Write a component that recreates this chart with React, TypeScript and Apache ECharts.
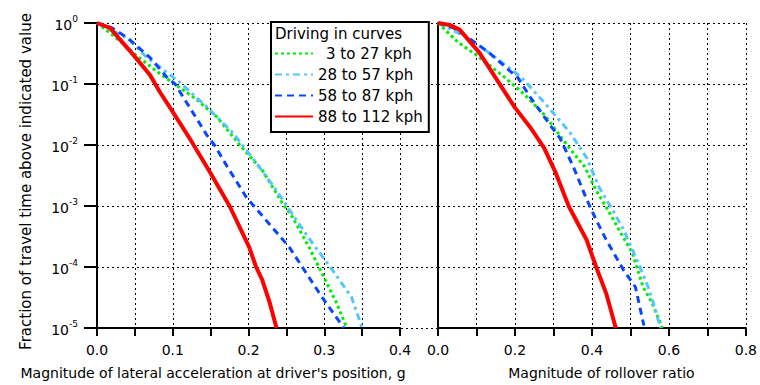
import React, { useEffect, useRef } from "react";
import * as echarts from "echarts";

// ---- Data ----
const seriesNames = ["3 to 27 kph", "28 to 57 kph", "58 to 87 kph", "88 to 112 kph"];

// Left panel: magnitude of lateral acceleration (g)
const latGreenX = [0, 0.021, 0.047, 0.079, 0.1, 0.132, 0.158, 0.192, 0.218, 0.245, 0.258, 0.28, 0.297, 0.316, 0.33];
const latGreenY = [1, 0.63, 0.33, 0.16, 0.105, 0.055, 0.029, 0.0089, 0.0039, 0.0011, 6.6e-4, 2.1e-4, 7.9e-5, 2.6e-5, 1e-5];
const latCyanX = [0, 0.041, 0.066, 0.083, 0.109, 0.145, 0.179, 0.205, 0.237, 0.263, 0.284, 0.311, 0.336, 0.35];
const latCyanY = [1, 0.56, 0.27, 0.19, 0.107, 0.042, 0.016, 0.0062, 0.0018, 5.9e-4, 2.5e-4, 8.9e-5, 3.2e-5, 1e-5];
const latBlueX = [0, 0.02, 0.041, 0.07, 0.092, 0.103, 0.122, 0.145, 0.155, 0.172, 0.197, 0.221, 0.254, 0.271, 0.297, 0.326];
const latBlueY = [1, 0.83, 0.56, 0.27, 0.13, 0.1, 0.042, 0.0145, 0.01, 0.0044, 0.0014, 6.3e-4, 2.1e-4, 1e-4, 3.2e-5, 1e-5];
const latRedX = [0, 0.017, 0.048, 0.07, 0.083, 0.1, 0.122, 0.149, 0.175, 0.188, 0.201, 0.21, 0.218, 0.228, 0.237];
const latRedY = [1, 0.83, 0.3, 0.14, 0.074, 0.035, 0.013, 0.0036, 0.001, 4.6e-4, 2.1e-4, 1e-4, 6.2e-5, 2.6e-5, 1e-5];

// Right panel: magnitude of rollover ratio
const rolGreenX = [0, 0.051, 0.099, 0.175, 0.226, 0.277, 0.335, 0.381, 0.411, 0.442, 0.47, 0.505, 0.533, 0.556, 0.583];
const rolGreenY = [1, 0.49, 0.3, 0.126, 0.066, 0.031, 0.01, 0.0044, 0.0018, 8.5e-4, 4.1e-4, 1.7e-4, 4.7e-5, 2.6e-5, 1e-5];
const rolCyanX = [0, 0.081, 0.15, 0.216, 0.277, 0.343, 0.386, 0.419, 0.454, 0.482, 0.525, 0.546, 0.563, 0.578];
const rolCyanY = [1, 0.56, 0.27, 0.13, 0.049, 0.016, 0.0062, 0.002, 8.5e-4, 4.1e-4, 1e-4, 4.7e-5, 2.2e-5, 1e-5];
const rolBlueX = [0, 0.04, 0.081, 0.132, 0.175, 0.208, 0.241, 0.292, 0.317, 0.353, 0.386, 0.411, 0.437, 0.482, 0.513, 0.535];
const rolBlueY = [1, 0.83, 0.56, 0.33, 0.19, 0.126, 0.059, 0.021, 0.013, 0.0042, 0.0013, 5.9e-4, 2.8e-4, 8.9e-5, 4.7e-5, 1.1e-5];
const rolRedX = [0, 0.03, 0.056, 0.107, 0.157, 0.2, 0.241, 0.276, 0.305, 0.34, 0.386, 0.411, 0.437, 0.462];
const rolRedY = [1, 0.93, 0.78, 0.33, 0.107, 0.041, 0.019, 0.0089, 0.0036, 9.8e-4, 2.8e-4, 1e-4, 3.7e-5, 1e-5];

const yAxisTitle = "Fraction of travel time above indicated value";
const leftXTitle = "Magnitude of lateral acceleration at driver's position, g";
const rightXTitle = "Magnitude of rollover ratio";
const legendTitle = "Driving in curves";

const FONT = "DejaVu Sans";

const zip = (xs: number[], ys: number[]) => xs.map((x, i) => [x, ys[i]]);

const styles = [
  { color: "#00ee00", type: [3, 3], width: 3 },
  { color: "#55c4ff", type: [7, 4, 3, 4], width: 3 },
  { color: "#0a46ff", type: [7, 5], width: 3 },
  { color: "#ff0000", type: "solid", width: 4 },
];

export default function App() {
  const ref = useRef<HTMLDivElement>(null);
  useEffect(() => {
    if (!ref.current) return;
    const chart = echarts.init(ref.current, undefined, { renderer: "svg" });

    const mkLine = (name: string, data: number[][], idx: number, s: any) => ({
      name,
      type: "line",
      xAxisIndex: idx,
      yAxisIndex: idx,
      data,
      symbol: "none",
      smooth: false,
      lineStyle: { color: s.color, type: s.type, width: s.width, cap: "butt" },
      itemStyle: { color: s.color },
      z: 3,
    });

    const gridLine = { show: true, lineStyle: { color: "#000", type: [2, 3], width: 1 } };

    const yAxisBase = (idx: number, showLabel: boolean) => ({
      type: "log",
      logBase: 10,
      gridIndex: idx,
      min: 1e-5,
      max: 1,
      axisLine: { show: true, onZero: false, lineStyle: { color: "#000", width: 2 } },
      axisTick: showLabel
        ? { show: true, length: 13, lineStyle: { color: "#000", width: 2 } }
        : { show: true, length: 38, lineStyle: { color: "#000", width: 1, type: [2, 3] } },
      splitLine: gridLine,
      axisLabel: {
        show: showLabel,
        margin: 19,
        formatter: (v: number) => {
          const e = Math.round(Math.log10(v));
          return `{b|10}{s|${e}}`;
        },
        rich: {
          b: { fontFamily: FONT, fontSize: 14, color: "#000", verticalAlign: "bottom", lineHeight: 18 },
          s: { fontFamily: FONT, fontSize: 9, color: "#000", verticalAlign: "top", lineHeight: 10 },
        },
      },
      name: showLabel ? yAxisTitle : "",
      nameLocation: "middle",
      nameGap: 64,
      nameTextStyle: { fontFamily: FONT, fontSize: 15, color: "#000", padding: [0, 12, 0, 0] },
    });

    const option: any = {
      animation: false,
      backgroundColor: "#fff",
      grid: [
        { left: 97, right: 360, top: 23, bottom: 57 },
        { left: 438, right: 7, top: 23, bottom: 57 },
      ],
      xAxis: [
        {
          type: "value",
          gridIndex: 0,
          min: 0,
          max: 0.4,
          interval: 0.05,
          axisLine: { show: true, onZero: false, lineStyle: { color: "#000", width: 2 } },
          axisTick: { show: true, length: 8, lineStyle: { color: "#000", width: 2 } },
          splitLine: gridLine,
          axisLabel: {
            margin: 15,
            fontFamily: FONT,
            fontSize: 14,
            color: "#000",
            formatter: (v: number) => (Math.abs(Math.round(v * 20)) % 2 === 0 ? v.toFixed(1) : ""),
          },
          name: leftXTitle,
          nameLocation: "middle",
          nameGap: 38,
          nameTextStyle: { fontFamily: FONT, fontSize: 14, color: "#000", padding: [0, 71, 0, 0] },
        },
        {
          type: "value",
          gridIndex: 1,
          min: 0,
          max: 0.8,
          interval: 0.1,
          axisLine: { show: true, onZero: false, lineStyle: { color: "#000", width: 2 } },
          axisTick: { show: true, length: 8, lineStyle: { color: "#000", width: 2 } },
          splitLine: gridLine,
          axisLabel: {
            margin: 15,
            fontFamily: FONT,
            fontSize: 14,
            color: "#000",
            formatter: (v: number) => (Math.abs(Math.round(v * 10)) % 2 === 0 ? v.toFixed(1) : ""),
          },
          name: rightXTitle,
          nameLocation: "middle",
          nameGap: 38,
          nameTextStyle: { fontFamily: FONT, fontSize: 14, color: "#000", padding: [0, 0, 0, 19] },
        },
      ],
      yAxis: [yAxisBase(0, true), yAxisBase(1, false)],
      legend: {
        orient: "vertical",
        left: 271,
        top: 22,
        padding: [24, 6, 8, 3],
        itemGap: 6,
        itemWidth: 38,
        itemHeight: 14,
        borderColor: "#000",
        borderWidth: 2,
        backgroundColor: "#fff",
        data: seriesNames,
        itemStyle: { color: "rgba(0,0,0,0)", borderWidth: 0, opacity: 0 },
        textStyle: {
          fontFamily: FONT,
          fontSize: 15,
          color: "#000",
          rich: { p: { fontFamily: FONT, fontSize: 15, color: "#000", padding: [0, 0, 0, 8] } },
        },
        formatter: (name: string) => (name === seriesNames[0] ? `{p|${name}}` : name),
        z: 10,
      },
      graphic: [
        {
          type: "text",
          left: 275,
          top: 26,
          z: 100,
          style: { text: legendTitle, fontFamily: FONT, fontSize: 15, fill: "#000" },
        },
      ],
      series: [
        mkLine(seriesNames[0], zip(latGreenX, latGreenY), 0, styles[0]),
        mkLine(seriesNames[1], zip(latCyanX, latCyanY), 0, styles[1]),
        mkLine(seriesNames[2], zip(latBlueX, latBlueY), 0, styles[2]),
        mkLine(seriesNames[3], zip(latRedX, latRedY), 0, styles[3]),
        mkLine(seriesNames[0], zip(rolGreenX, rolGreenY), 1, styles[0]),
        mkLine(seriesNames[1], zip(rolCyanX, rolCyanY), 1, styles[1]),
        mkLine(seriesNames[2], zip(rolBlueX, rolBlueY), 1, styles[2]),
        mkLine(seriesNames[3], zip(rolRedX, rolRedY), 1, styles[3]),
      ],
    };
    chart.setOption(option);
    return () => chart.dispose();
  }, []);

  return (
    <div
      ref={ref}
      style={{ position: "absolute", left: 0, top: 0, width: 760, height: 385, background: "#fff" }}
    />
  );
}
